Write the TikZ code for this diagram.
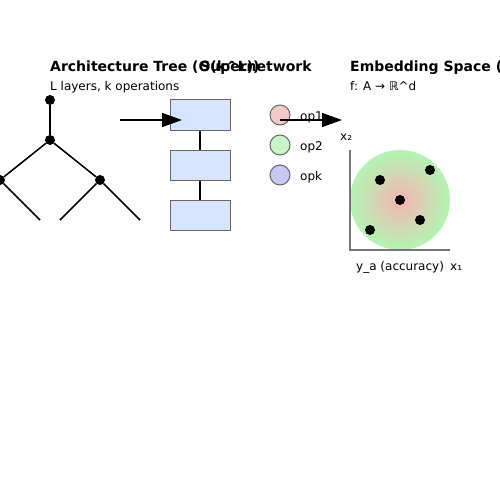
\documentclass[tikz,border=0pt]{standalone}
\usepackage{fontspec}
\setmainfont{DejaVu Sans}
\usetikzlibrary{arrows.meta}
\definecolor{boxfill}{HTML}{D6E4FF}
\definecolor{boxedge}{HTML}{666666}
\definecolor{opone}{HTML}{F5C8C8}
\definecolor{optwo}{HTML}{C8F5C8}
\definecolor{opk}{HTML}{C8C8F5}
\definecolor{axisgray}{HTML}{777777}
\definecolor{embred}{HTML}{F7B4B4}
\definecolor{embgreen}{HTML}{B2F5B2}
\tikzset{
  x=1pt, y=-1pt,
  title/.style={anchor=base west, inner sep=0pt, font=\fontsize{14}{16}\selectfont\bfseries},
  lab/.style={anchor=base west, inner sep=0pt, font=\fontsize{12}{14}\selectfont},
  tnode/.style={circle, fill=black, inner sep=0pt, minimum size=10pt},
  edge/.style={line width=1.5pt, black},
  sbox/.style={draw=boxedge, fill=boxfill, line width=1pt, minimum width=60pt, minimum height=30pt, inner sep=0pt},
  opc/.style={circle, draw=boxedge, line width=1pt, minimum size=20pt, inner sep=0pt},
  bigarrow/.style={line width=1.5pt, -{Triangle[length=20pt, width=14pt]}},
  dot/.style={circle, fill=black, inner sep=0pt, minimum size=10pt},
}
\begin{document}
\begin{tikzpicture}
\useasboundingbox (0,0) rectangle (500,500);
\fill[white] (0,0) rectangle (500,500);
% titles
\node[title] (t1) at (50,71.5) {Architecture Tree (O(k\textasciicircum L))};
\node[title] (t2) at (200,71.5) {Supernetwork};
\node[title] (t3) at (350,71.5) {Embedding Space (};
\node[lab] (s1) at (50,91) {L layers, k operations};
\node[lab] (s3) at (350,91) {f: A → ℝ\textasciicircum d};
% tree
\node[tnode] (root) at (50,100) {};
\node[tnode] (mid) at (50,140) {};
\node[tnode] (lft) at (0,180) {};
\node[tnode] (rgt) at (100,180) {};
\coordinate (l1) at (40,220);
\coordinate (l0) at (-40,220);
\coordinate (r1) at (60,220);
\coordinate (r2) at (140,220);
\draw[edge] (root) -- (mid);
\draw[edge] (mid) -- (lft);
\draw[edge] (mid) -- (rgt);
\draw[edge] (lft) -- (l1);
\draw[edge] (lft) -- (l0);
\draw[edge] (rgt) -- (r1);
\draw[edge] (rgt) -- (r2);
% supernetwork
\node[sbox] (b1) at (200,115) {};
\node[sbox] (b2) at (200,165) {};
\node[sbox] (b3) at (200,215) {};
\draw[edge] (b1) -- (b2);
\draw[edge] (b2) -- (b3);
% ops
\node[opc, fill=opone] (o1) at (280,115) {};
\node[opc, fill=optwo] (o2) at (280,145) {};
\node[opc, fill=opk] (o3) at (280,175) {};
\node[lab] (lo1) at (300,120.5) {op1};
\node[lab] (lo2) at (300,150.5) {op2};
\node[lab] (lo3) at (300,180.5) {opk};
% arrows
\coordinate (a1s) at (120,120);
\coordinate (a1e) at (182,120);
\draw[bigarrow] (a1s) -- (a1e);
\coordinate (a2s) at (280,120);
\coordinate (a2e) at (342,120);
\draw[bigarrow] (a2s) -- (a2e);
% embedding
\shade[inner color=embred, outer color=embgreen] (400,200) circle (50);
\coordinate (ax0) at (350,250);
\coordinate (axy) at (350,150);
\coordinate (axx) at (450,250);
\draw[axisgray, line width=1.5pt] (axy) -- (ax0) -- (axx);
\node[lab] (x2) at (340,140) {x₂};
\node[lab] (ya) at (356,270) {y\_a (accuracy)};
\node[lab] (x1) at (450,270) {x₁};
\node[dot] (d1) at (380,180) {};
\node[dot] (d2) at (430,170) {};
\node[dot] (d3) at (400,200) {};
\node[dot] (d4) at (420,220) {};
\node[dot] (d5) at (370,230) {};
\end{tikzpicture}
\end{document}
